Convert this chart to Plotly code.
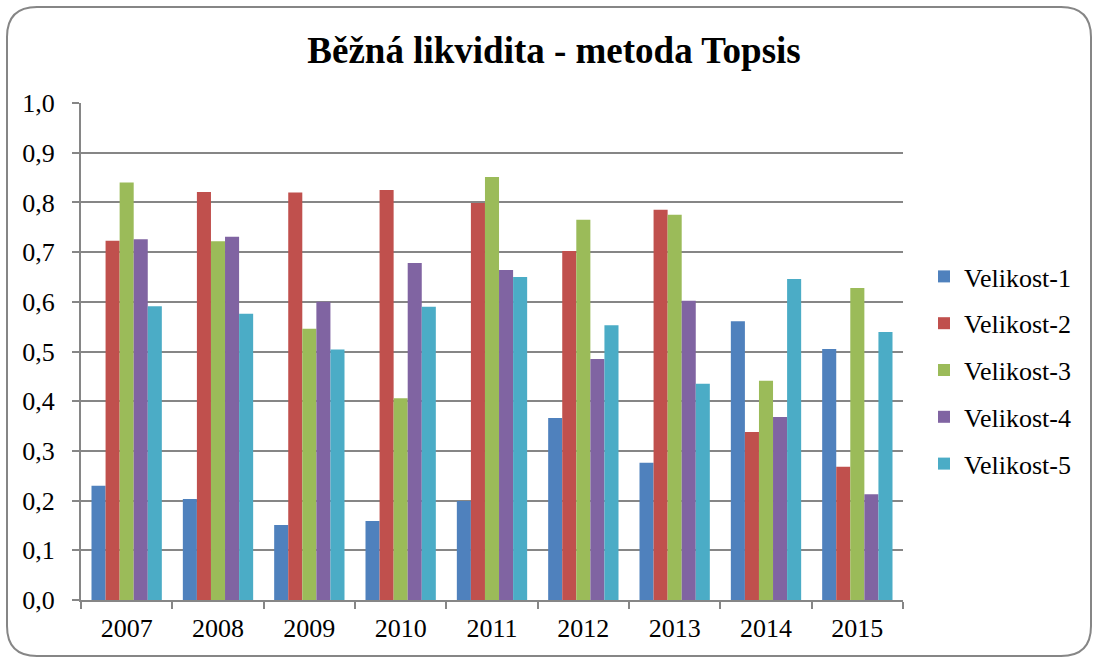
import plotly.graph_objects as go

years = ["2007", "2008", "2009", "2010", "2011", "2012", "2013", "2014", "2015"]
velikost_1 = [0.230, 0.203, 0.151, 0.159, 0.199, 0.366, 0.276, 0.561, 0.505]
velikost_2 = [0.723, 0.821, 0.820, 0.825, 0.799, 0.702, 0.785, 0.338, 0.268]
velikost_3 = [0.840, 0.722, 0.546, 0.406, 0.851, 0.765, 0.775, 0.441, 0.628]
velikost_4 = [0.726, 0.731, 0.600, 0.678, 0.664, 0.485, 0.602, 0.368, 0.213]
velikost_5 = [0.591, 0.576, 0.504, 0.590, 0.650, 0.553, 0.435, 0.646, 0.539]
series_names = ["Velikost-1", "Velikost-2", "Velikost-3", "Velikost-4", "Velikost-5"]
colors = ["#4F81BD", "#C0504D", "#9BBB59", "#8064A2", "#4BACC6"]

W, H = 1093, 659
L, R, T, B = 81, 190, 103, 59
pw, ph = W - L - R, H - T - B

def px_x(x):
    return (x - L) / pw

def px_y(y):
    return (H - B - y) / ph

fig = go.Figure()
for name, vals, col in zip(series_names, [velikost_1, velikost_2, velikost_3, velikost_4, velikost_5], colors):
    fig.add_trace(go.Bar(x=years, y=vals, name=name, marker=dict(color=col, line=dict(width=0)),
                         legendgroup=name))

# rounded border
x0, y0, x1, y1, r = 7, 7, 1091, 656, 30
path = (f"M {px_x(x0 + r)},{px_y(y0)} L {px_x(x1 - r)},{px_y(y0)} "
        f"Q {px_x(x1)},{px_y(y0)} {px_x(x1)},{px_y(y0 + r)} "
        f"L {px_x(x1)},{px_y(y1 - r)} Q {px_x(x1)},{px_y(y1)} {px_x(x1 - r)},{px_y(y1)} "
        f"L {px_x(x0 + r)},{px_y(y1)} Q {px_x(x0)},{px_y(y1)} {px_x(x0)},{px_y(y1 - r)} "
        f"L {px_x(x0)},{px_y(y0 + r)} Q {px_x(x0)},{px_y(y0)} {px_x(x0 + r)},{px_y(y0)} Z")

font = "Liberation Serif, Times New Roman, serif"
fig.update_layout(
    width=W, height=H,
    margin=dict(l=L, r=R, t=T, b=B, autoexpand=False),
    paper_bgcolor="white", plot_bgcolor="white",
    separators=", ",
    font=dict(family=font, size=26, color="black"),
    title=dict(text="<b>Běžná likvidita - metoda Topsis</b>", x=554 / W, xanchor="center",
               y=1 - 50 / H, yanchor="middle", font=dict(family=font, size=37, color="black")),
    barmode="group", bargap=0.23, bargroupgap=0,
    xaxis=dict(showline=True, linecolor="#868686", linewidth=2, ticks="outside", tickson="boundaries",
               ticklen=7, tickcolor="#868686", tickwidth=2, showgrid=False,
               tickfont=dict(family=font, size=26), ticklabelstandoff=4),
    yaxis=dict(range=[0, 1], dtick=0.1, tickformat=".1f", showline=True, linecolor="#868686", linewidth=2,
               ticks="outside", ticklen=7, tickcolor="#868686", tickwidth=2,
               showgrid=True, gridcolor="#868686", gridwidth=2, zeroline=False,
               tickfont=dict(family=font, size=26), ticklabelstandoff=12),
    legend=dict(x=px_x(924), xanchor="left", y=px_y(253), yanchor="top",
                font=dict(family=font, size=26, color="black"), tracegroupgap=10, itemwidth=30,
                bgcolor="rgba(0,0,0,0)"),
    shapes=[dict(type="path", path=path, xref="paper", yref="paper",
                 line=dict(color="#868686", width=2), fillcolor="rgba(0,0,0,0)", layer="below")],
)

fig.write_html("out.html", config={"displayModeBar": False},
               post_script="document.body.style.margin='0';document.body.style.padding='0';")
